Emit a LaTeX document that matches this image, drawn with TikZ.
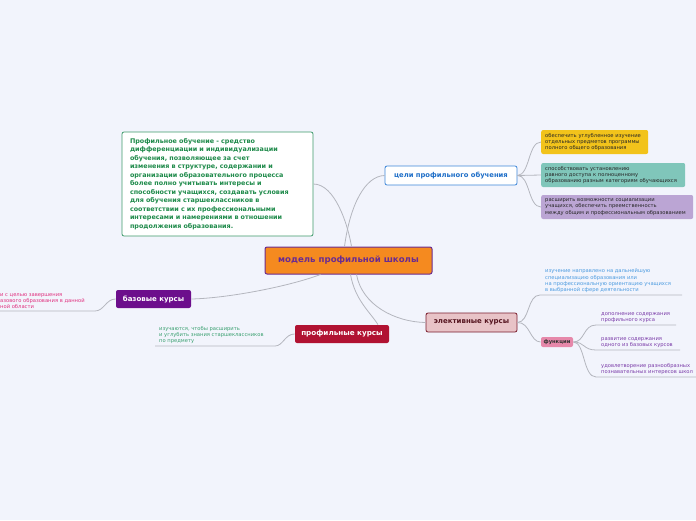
\documentclass[tikz,border=0pt]{standalone}
\usepackage{fontspec}
\setmainfont{DejaVu Sans}
\usetikzlibrary{positioning,calc}
\definecolor{bg}{HTML}{F2F4FC}
\definecolor{linkgray}{HTML}{B4B6BE}
\definecolor{corange}{HTML}{F58A1F}
\definecolor{cpurple}{HTML}{6A2C91}
\definecolor{gborder}{HTML}{3E9A6B}
\definecolor{gtext}{HTML}{1E8A4A}
\definecolor{bborder}{HTML}{3D86D8}
\definecolor{btext}{HTML}{1F6FC8}
\definecolor{cyellow}{HTML}{F2C31B}
\definecolor{cteal}{HTML}{80C6BA}
\definecolor{clav}{HTML}{BBA5D4}
\definecolor{cbase}{HTML}{6C0E8C}
\definecolor{cprof}{HTML}{B11232}
\definecolor{celect}{HTML}{E8C3C7}
\definecolor{celectb}{HTML}{7B1E2E}
\definecolor{cfunc}{HTML}{E688AA}
\definecolor{tpink}{HTML}{E0307E}
\definecolor{tgreen}{HTML}{3AA070}
\definecolor{tblue}{HTML}{4C9BE0}
\definecolor{tviolet}{HTML}{7A3BA8}

\begin{document}
\begin{tikzpicture}[
  x=1pt, y=-1pt,
  topic/.style={rounded corners=2pt, line width=0.8pt, inner sep=0pt, font=\bfseries\fontsize{7}{8}\selectfont},
  sub/.style={fill=#1, rounded corners=2pt, inner xsep=4pt, inner ysep=0pt, minimum height=24pt, align=left, anchor=west, font=\fontsize{5.2}{6.3}\selectfont, text=black!85},
  leaf/.style={text=#1, inner sep=0pt, align=left, anchor=south west, font=\fontsize{5.2}{6.3}\selectfont},
  link/.style={draw=linkgray, line width=0.8pt},
]

\fill[bg] (0,0) rectangle (696,520);
\useasboundingbox (0,0) rectangle (696,520);

% main topic
\node[topic, draw=cpurple, fill=corange, line width=1pt, minimum width=167pt, minimum height=27pt, text=cpurple, font=\bfseries\fontsize{8.6}{10}\selectfont] (model) at (348.5,260.5) {модель профильной школы};

% definition box
\node[draw=gborder, fill=white, rounded corners=2pt, line width=0.8pt, text=gtext, align=left, text width=175pt, inner xsep=8pt, minimum height=104pt, font=\bfseries\fontsize{6.4}{8.5}\selectfont] (def) at (217.5,184) {Профильное обучение - средство\\дифференциации и индивидуализации\\обучения, позволяющее за счет\\изменения в структуре, содержании и\\организации образовательного процесса\\более полно учитывать интересы и\\способности учащихся, создавать условия\\для обучения старшеклассников в\\соответствии с их профессиональными\\интересами и намерениями в отношении\\продолжения образования.};

% main branches
\node[topic, draw=bborder, fill=white, text=btext, minimum width=132pt, minimum height=19pt, font=\bfseries\fontsize{6.8}{8}\selectfont] (goals) at (451,175.5) {цели профильного обучения};
\node[topic, fill=cbase, text=white, minimum width=75pt, minimum height=18pt] (base) at (153.5,299) {базовые курсы};
\node[topic, fill=cprof, text=white, minimum width=94pt, minimum height=18pt, font=\bfseries\fontsize{7.2}{8}\selectfont] (prof) at (342,334) {профильные курсы};
\node[topic, draw=celectb, fill=celect, text=celectb!70!black, minimum width=91pt, minimum height=19pt] (elect) at (471.5,322.5) {элективные курсы};

% goals
\node[sub=cyellow, text width=99pt] (g1) at (541,142) {обеспечить углубленное изучение\\отдельных предметов программы\\полного общего образования};
\node[sub=cteal, text width=136pt] (g2) at (541,175) {способствовать установлению\\равного доступа к полноценному\\образованию разным категориям обучающихся};
\node[sub=clav, text width=144pt] (g3) at (541,207) {расширить возможности социализации\\учащихся, обеспечить преемственность\\между общим и профессиональным образованием};

% leaves
\node[leaf=tpink] (baseinfo) at (0,309) {и с целью завершения\\азового образования в данной\\ной области};
\node[leaf=tgreen] (profinfo) at (159,344) {изучаются, чтобы расширить\\и углубить знания старшеклассников\\по предмету};
\node[leaf=tblue] (electinfo) at (545,293) {изучение направлено на дальнейшую\\специализацию образования или\\на профессиональную ориентацию учащихся\\в выбранной сфере деятельности};
\node[topic, fill=cfunc, text=black!80, minimum width=32pt, minimum height=10pt, font=\bfseries\fontsize{5.2}{6}\selectfont] (func) at (557,342) {функции};
\node[leaf=tviolet] (f1) at (601,323) {дополнение содержания\\профильного курса};
\node[leaf=tviolet] (f2) at (601,348) {развитие содержания\\одного из базовых курсов};
\node[leaf=tviolet] (f3) at (601,375) {удовлетворение разнообразных\\познавательных интересов школ};

\coordinate (baseend) at (0,311);
\coordinate (profend) at (155,346);
\coordinate (electend) at (682,295);
\coordinate (f1end) at (676,325);
\coordinate (f2end) at (680,350);
\coordinate (f3end) at (696,377);

% connectors
\draw[link] (def.east) .. controls (335,184) and (348,225) .. ([xshift=3pt]model.north);
\draw[link] ([xshift=-4pt]model.north) .. controls (350,205) and (365,176) .. (goals.west);
\draw[link] ([xshift=-28pt]model.south) .. controls (290,286) and (230,298) .. (base.east);
\draw[link] ([xshift=2pt]model.south) .. controls (355,300) and (370,312) .. ([xshift=36pt]prof.north);
\draw[link] ([xshift=8pt]model.south) .. controls (362,305) and (395,322) .. (elect.west);

\draw[link] (goals.east) .. controls (530,175) and (528,142) .. (g1.west);
\draw[link] (goals.east) -- (g2.west);
\draw[link] (goals.east) .. controls (530,175) and (528,207) .. (g3.west);

\draw[link] (base.west) .. controls (106,299) and (104,311) .. (95,311) -- (baseend);
\draw[link] (prof.west) .. controls (285,334) and (283,346) .. (275,346) -- (profend);
\draw[link] (elect.east) .. controls (530,322) and (527,295) .. (540,295) -- (electend);
\draw[link] (elect.east) .. controls (530,322) and (530,342) .. (func.west);
\draw[link] (func.east) .. controls (585,342) and (583,325) .. (596,325) -- (f1end);
\draw[link] (func.east) .. controls (585,342) and (583,350) .. (596,350) -- (f2end);
\draw[link] (func.east) .. controls (585,342) and (583,377) .. (596,377) -- (f3end);

\end{tikzpicture}
\end{document}
